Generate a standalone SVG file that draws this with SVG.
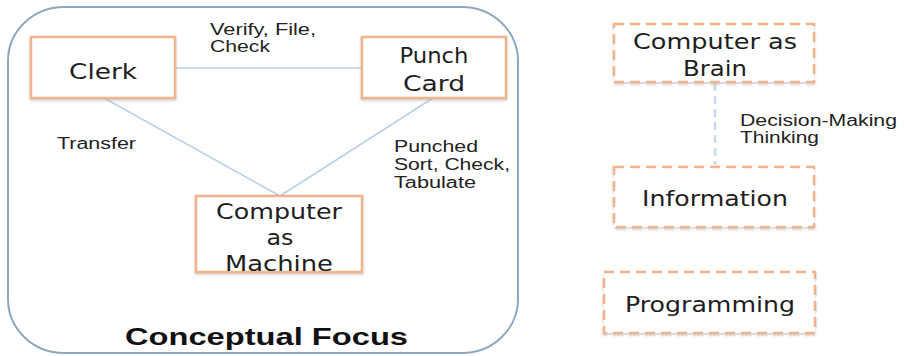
<svg xmlns="http://www.w3.org/2000/svg" width="904" height="356" viewBox="0 0 904 356">
<defs>
<filter id="sh" x="-10%" y="-10%" width="120%" height="130%">
<feDropShadow dx="0" dy="1.5" stdDeviation="1" flood-color="#999" flood-opacity="0.5"/>
</filter>
</defs>
<style>
.outer{fill:#fff;stroke:#8FA7BE;stroke-width:2}
.box{fill:#fff;stroke:#F2B48C;stroke-width:2.5;filter:url(#sh)}
.dbox{fill:#fff;stroke:#F2B48C;stroke-width:2.5;stroke-dasharray:10 6;filter:url(#sh)}
.link{stroke:#B9D0E6;stroke-width:1.5;fill:none}
.dlink{stroke:#C6DAEC;stroke-width:2.5;stroke-dasharray:8 5;fill:none}
.nl{font-family:"DejaVu Sans","Liberation Sans",sans-serif;font-size:21px;fill:#1e1e1e;text-anchor:middle}
.sl{font-family:"Liberation Sans",Arial,sans-serif;font-size:16px;fill:#222}
.title{font-family:"Liberation Sans",Arial,sans-serif;font-size:24px;font-weight:bold;fill:#111}
</style>
<rect class="outer" x="8" y="7" width="510" height="346" rx="56" ry="54"/>
<g id="connectors">
<line class="link" x1="175" y1="68" x2="362" y2="68"/>
<line class="link" x1="104" y1="98" x2="280" y2="196"/>
<line class="link" x1="433" y1="98" x2="280" y2="196"/>
<line class="dlink" x1="715" y1="83" x2="715" y2="165"/>
</g>
<g id="labels">
<text class="sl" x="210" y="35" textLength="106" lengthAdjust="spacingAndGlyphs">Verify, File,</text>
<text class="sl" x="210" y="52" textLength="60" lengthAdjust="spacingAndGlyphs">Check</text>
<text class="sl" x="57" y="149" textLength="79" lengthAdjust="spacingAndGlyphs">Transfer</text>
<text class="sl" x="394" y="152" textLength="84" lengthAdjust="spacingAndGlyphs">Punched</text>
<text class="sl" x="394" y="170" textLength="116" lengthAdjust="spacingAndGlyphs">Sort, Check,</text>
<text class="sl" x="394" y="188" textLength="82" lengthAdjust="spacingAndGlyphs">Tabulate</text>
<text class="sl" x="740" y="126" textLength="157" lengthAdjust="spacingAndGlyphs">Decision-Making</text>
<text class="sl" x="740" y="143" textLength="79" lengthAdjust="spacingAndGlyphs">Thinking</text>
</g>
<g id="clerk">
<rect class="box" x="31" y="37" width="144" height="61"/>
<text class="nl" x="103" y="79" textLength="68" lengthAdjust="spacingAndGlyphs">Clerk</text>
</g>
<g id="punch-card">
<rect class="box" x="362" y="37" width="144" height="61"/>
<text class="nl" x="434" y="63" textLength="69" lengthAdjust="spacingAndGlyphs">Punch</text>
<text class="nl" x="434" y="91" textLength="62" lengthAdjust="spacingAndGlyphs">Card</text>
</g>
<g id="computer-machine">
<rect class="box" x="196" y="196" width="166" height="76"/>
<text class="nl" x="279" y="219" textLength="126" lengthAdjust="spacingAndGlyphs">Computer</text>
<text class="nl" x="280" y="245" textLength="27" lengthAdjust="spacingAndGlyphs">as</text>
<text class="nl" x="279" y="271" textLength="108" lengthAdjust="spacingAndGlyphs">Machine</text>
</g>
<text class="title" x="125" y="345" textLength="283" lengthAdjust="spacingAndGlyphs">Conceptual Focus</text>
<g id="computer-brain">
<rect class="dbox" x="614" y="24" width="200" height="58"/>
<text class="nl" x="715" y="49" textLength="164" lengthAdjust="spacingAndGlyphs">Computer as</text>
<text class="nl" x="715" y="76" textLength="64" lengthAdjust="spacingAndGlyphs">Brain</text>
</g>
<g id="information">
<rect class="dbox" x="614" y="167" width="200" height="60"/>
<text class="nl" x="715" y="206" textLength="146" lengthAdjust="spacingAndGlyphs">Information</text>
</g>
<g id="programming">
<rect class="dbox" x="604" y="272" width="211" height="61"/>
<text class="nl" x="710" y="312" textLength="170" lengthAdjust="spacingAndGlyphs">Programming</text>
</g>
</svg>
